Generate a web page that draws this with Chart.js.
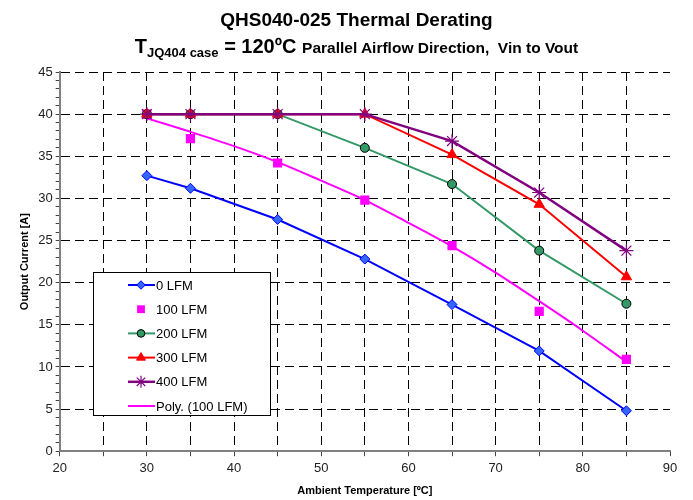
<!DOCTYPE html>
<html>
<head>
<meta charset="utf-8">
<script src="https://cdn.jsdelivr.net/npm/chart.js@4.4.0/dist/chart.umd.min.js"></script>
<style>
    body { margin: 0; background: #fff; }
    #wrap { position: relative; width: 693px; height: 500px; }
    #title {
        position: absolute; left: 10px; top: 8px; width: 693px; text-align: center;
        font-family: Arial, "Liberation Sans", sans-serif; font-weight: bold; color: #000;
    }
    #title .t1 { font-size: 19px; line-height: 24px; }
    #title .t2 { font-size: 20px; line-height: 24px; margin-top: 2px; }
    #title .t2 sub { font-size: 13px; vertical-align: -4px; }
    #title .t2 .small { font-size: 15.5px; }
</style>
</head>
<body>
<div id="wrap">
    <canvas id="deratingChart" width="693" height="500"></canvas>
    <div id="title">
        <div class="t1">QHS040-025 Thermal Derating</div>
        <div class="t2">T<sub>JQ404 case</sub> = 120ºC <span class="small">Parallel Airflow Direction,&nbsp; Vin to Vout</span></div>
    </div>
</div>
<script>
Chart.defaults.font.family = 'Arial, "Liberation Sans", Helvetica, sans-serif';
Chart.defaults.font.size = 13;
Chart.defaults.color = '#222';

// Ambient temperature points where the curves were measured
const temps = [30, 35, 45, 55, 65, 75, 85];

// Output current [A] for each airflow
const lfm0   = [32.7, 31.2, 27.5, 22.8, 17.4, 11.9, 4.8];
const lfm100 = [40.0, 37.1, 34.2, 29.8, 24.4, 16.6, 10.9];
const lfm200 = [40.0, 40.0, 40.0, 36.0, 31.7, 23.8, 17.5];
const lfm300 = [40.0, 40.0, 40.0, 40.0, 35.2, 29.3, 20.7];
const lfm400 = [40.0, 40.0, 40.0, 40.0, 36.8, 30.7, 23.8];

// Polynomial trendline through the 100 LFM points
const polyTemps  = [30, 35, 40, 45, 50, 55, 60, 65, 70, 75, 80, 85];
const poly100    = [39.5, 37.9, 36.2, 34.3, 32.1, 29.8, 27.1, 24.3, 21.2, 17.8, 14.3, 10.6];

let pairs = (xs, ys) => xs.map((x, i) => ({x: x, y: ys[i]}));

// Legend drawn inside the plot, like the original
const legendBox = {
    id: 'legendBox',
    afterDraw(chart) {
        const ctx = chart.ctx;
        const left = 93, top = 272, w = 177, h = 143;
        ctx.save();
        ctx.fillStyle = '#fff';
        ctx.fillRect(left, top, w, h);
        ctx.strokeStyle = '#000';
        ctx.lineWidth = 1;
        ctx.strokeRect(left + 0.5, top + 0.5, w, h);

        const names = ['0 LFM', '100 LFM', '200 LFM', '300 LFM', '400 LFM', 'Poly. (100 LFM)'];
        names.forEach((name, r) => {
            const y = top + 13 + r * 24.2;
            const ds = chart.data.datasets[r];
            if (ds.showLine !== false) {
                ctx.strokeStyle = ds.borderColor;
                ctx.lineWidth = ds.borderWidth;
                ctx.beginPath();
                ctx.moveTo(128, y);
                ctx.lineTo(155, y);
                ctx.stroke();
            }
            if (ds.pointRadius > 0) {
                ctx.fillStyle = ds.pointBackgroundColor;
                ctx.strokeStyle = ds.pointBorderColor;
                ctx.lineWidth = ds.pointBorderWidth;
                Chart.helpers.drawPoint(ctx, {
                    pointStyle: ds.pointStyle,
                    radius: ds.pointRadius * 0.85,
                    borderWidth: ds.pointBorderWidth
                }, 141, y);
            }
            ctx.fillStyle = '#000';
            ctx.font = '13px Arial, "Liberation Sans", sans-serif';
            ctx.textBaseline = 'middle';
            ctx.fillText(name, 156, y + 1);
        });
        ctx.restore();
    }
};

let deratingChart = new Chart(document.getElementById('deratingChart').getContext('2d'), {
    type: 'line',
    data: {
        datasets: [{
            label: '0 LFM',
            data: pairs(temps, lfm0),
            borderColor: '#0000ff',
            borderWidth: 2,
            pointStyle: 'rectRot',
            pointRadius: 5,
            pointBackgroundColor: '#3366ff',
            pointBorderColor: '#0000ff',
            pointBorderWidth: 1,
            order: 5,
        }, {
            label: '100 LFM',
            data: pairs(temps, lfm100),
            showLine: false,
            borderColor: '#ff00ff',
            borderWidth: 0,
            pointStyle: 'rect',
            pointRadius: 6.5,
            pointBackgroundColor: '#ff00ff',
            pointBorderColor: '#ff00ff',
            pointBorderWidth: 0,
            order: 3,
        }, {
            label: '200 LFM',
            data: pairs(temps, lfm200),
            borderColor: '#339966',
            borderWidth: 2,
            pointStyle: 'circle',
            pointRadius: 4.5,
            pointBackgroundColor: '#339966',
            pointBorderColor: '#000',
            pointBorderWidth: 1,
            order: 2,
        }, {
            label: '300 LFM',
            data: pairs(temps, lfm300),
            borderColor: '#ff0000',
            borderWidth: 2,
            pointStyle: 'triangle',
            pointRadius: 6,
            pointBackgroundColor: '#ff0000',
            pointBorderColor: '#ff0000',
            pointBorderWidth: 1,
            order: 1,
        }, {
            label: '400 LFM',
            data: pairs(temps, lfm400),
            borderColor: '#800080',
            borderWidth: 2.5,
            pointStyle: 'star',
            pointRadius: 7,
            pointBackgroundColor: '#800080',
            pointBorderColor: '#800080',
            pointBorderWidth: 1.2,
            order: 0,
        }, {
            label: 'Poly. (100 LFM)',
            data: pairs(polyTemps, poly100),
            borderColor: '#ff00ff',
            borderWidth: 2,
            pointRadius: 0,
            tension: 0.4,
            cubicInterpolationMode: 'monotone',
            order: 4,
        }]
    },
    options: {
        responsive: false,
        animation: false,
        events: [],
        layout: {
            padding: { top: 72, right: 23, left: 14, bottom: 0 }
        },
        plugins: {
            legend: { display: false },
            tooltip: { enabled: false },
            title: { display: false },
        },
        scales: {
            x: {
                type: 'linear',
                min: 20,
                max: 90,
                ticks: {
                    stepSize: 5,
                    autoSkip: false,
                    maxRotation: 0,
                    color: '#222',
                    padding: 4,
                    callback: (v) => (v % 10 === 0 ? v : ''),
                },
                grid: {
                    color: (c) => (c.tick && c.tick.value > 20 && c.tick.value < 90 ? '#000' : 'rgba(0,0,0,0)'),
                    lineWidth: 1,
                    tickColor: '#444',
                    tickLength: 5,
                    tickBorderDash: [],
                },
                border: { color: '#808080', width: 2, dash: [9, 5] },
                title: {
                    display: true,
                    text: 'Ambient Temperature [ºC]',
                    font: { size: 11, weight: 'bold' },
                    color: '#000',
                    padding: { top: 5, bottom: 2 },
                },
            },
            y: {
                min: 0,
                max: 45,
                ticks: {
                    stepSize: 1,
                    autoSkip: false,
                    color: '#222',
                    callback: (v) => (v % 5 === 0 ? v : ''),
                },
                grid: {
                    color: (c) => (c.tick && c.tick.value % 5 === 0 && c.tick.value > 0 ? '#000' : 'rgba(0,0,0,0)'),
                    lineWidth: 1,
                    tickColor: '#444',
                    tickLength: 4,
                    tickBorderDash: [],
                },
                border: { color: '#808080', width: 2, dash: [9, 5] },
                title: {
                    display: true,
                    text: 'Output Current [A]',
                    font: { size: 11, weight: 'bold' },
                    color: '#000',
                    padding: { bottom: 4 },
                },
            }
        }
    },
    plugins: [legendBox],
});
</script>
</body>
</html>
